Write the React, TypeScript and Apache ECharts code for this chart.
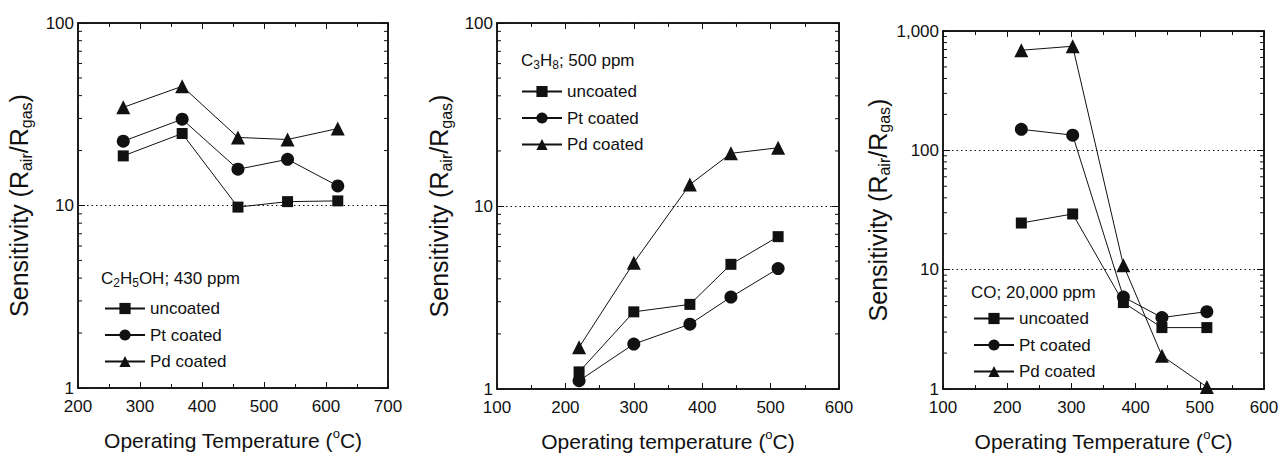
import React, { useEffect, useRef } from "react";
import * as echarts from "echarts";

// ---- data ----
const SERIES_NAMES = ["uncoated", "Pt coated", "Pd coated"];

const P1_TEMP = [273, 368, 458, 538, 619];
const P1_UNCOATED = [18.7, 24.8, 9.8, 10.5, 10.6];
const P1_PT = [22.5, 29.7, 15.8, 17.9, 12.8];
const P1_PD = [34.5, 45, 23.6, 23, 26.4];

const P2_TEMP = [220, 300, 382, 442, 511];
const P2_UNCOATED = [1.24, 2.64, 2.9, 4.8, 6.8];
const P2_PT = [1.11, 1.76, 2.26, 3.18, 4.55];
const P2_PD = [1.69, 4.9, 13.1, 19.4, 20.8];

const P3_TEMP = [222, 302, 381, 441, 511];
const P3_UNCOATED = [24.6, 29.3, 5.3, 3.27, 3.27];
const P3_PT = [150, 134, 5.9, 3.97, 4.45];
const P3_PD = [690, 745, 10.9, 1.9, 1.04];

const X_RANGES = [
  [200, 700],
  [100, 600],
  [100, 600],
];
const Y_RANGES = [
  [1, 100],
  [1, 100],
  [1, 1000],
];
const X_NAMES = [
  "Operating Temperature ({sup|o}C)",
  "Operating temperature ({sup|o}C)",
  "Operating Temperature ({sup|o}C)",
];
const GAS_LABELS = [
  "C{sub|2}H{sub|5}OH; 430 ppm",
  "C{sub|3}H{sub|8}; 500 ppm",
  "CO; 20,000 ppm",
];

// ---- layout ----
const FONT = '"Liberation Sans", Arial, sans-serif';
const INK = "#111";
const GRIDS = [
  { left: 78, top: 23, width: 310, height: 365 },
  { left: 497, top: 23, width: 342, height: 367 },
  { left: 943, top: 31, width: 321, height: 359 },
];
const Y_NAME_GAPS = [44, 43, 44];
const TITLE_POS = [
  { left: 101, top: 267 },
  { left: 521, top: 49 },
  { left: 971, top: 281 },
];
const LEGEND_POS = [
  { left: 104, top: 300 },
  { left: 521, top: 83 },
  { left: 973, top: 310 },
];

const SYMBOLS = ["rect", "circle", "triangle"];
const SYMBOL_SIZES = [11, 13, 14];

function minorLogTicks(min: number, max: number): number[] {
  const out: number[] = [];
  for (let d = min; d < max; d *= 10) {
    for (let k = 2; k <= 9; k++) out.push(d * k);
  }
  return out;
}

export default function App() {
  const ref = useRef<HTMLDivElement>(null);

  useEffect(() => {
    document.body.style.margin = "0";
    if (!ref.current) return;
    const chart = echarts.init(ref.current, undefined, { renderer: "svg" });

    const panelData = [
      { x: P1_TEMP, ys: [P1_UNCOATED, P1_PT, P1_PD] },
      { x: P2_TEMP, ys: [P2_UNCOATED, P2_PT, P2_PD] },
      { x: P3_TEMP, ys: [P3_UNCOATED, P3_PT, P3_PD] },
    ];

    const grid: any[] = [];
    const xAxis: any[] = [];
    const yAxis: any[] = [];
    const series: any[] = [];
    const title: any[] = [];
    const legend: any[] = [];

    panelData.forEach((pd, i) => {
      grid.push({
        ...GRIDS[i],
        show: true,
        borderColor: INK,
        borderWidth: 1.5,
        backgroundColor: "transparent",
      });
      const [xmin, xmax] = X_RANGES[i];
      const [ymin, ymax] = Y_RANGES[i];

      const xBase = {
        type: "value",
        gridIndex: i,
        min: xmin,
        max: xmax,
        interval: 100,
        axisLine: { show: true, lineStyle: { color: INK, width: 1.5 } },
        axisTick: { show: true, inside: true, length: 6, lineStyle: { color: INK } },
        minorTick: { show: true, splitNumber: 2, length: 4, lineStyle: { color: INK } },
        splitLine: { show: false },
      };
      xAxis.push({
        ...xBase,
        position: "bottom",
        axisLabel: {
          show: true,
          margin: 10,
          fontSize: 17,
          fontFamily: FONT,
          color: INK,
        },
        name: X_NAMES[i],
        nameLocation: "middle",
        nameGap: 39,
        nameTextStyle: {
          fontSize: 21,
          fontFamily: FONT,
          color: INK,
          lineHeight: 26,
          rich: {
            sup: {
              fontSize: 13,
              fontFamily: FONT,
              color: INK,
              verticalAlign: "top",
              lineHeight: 13,
            },
          },
        },
      });
      xAxis.push({ ...xBase, position: "top", axisLabel: { show: false } });

      const yBase = {
        type: "log",
        logBase: 10,
        gridIndex: i,
        min: ymin,
        max: ymax,
        axisLine: { show: true, lineStyle: { color: INK, width: 1.5 } },
        axisTick: { show: true, inside: true, length: 7, lineStyle: { color: INK } },
      };
      yAxis.push({
        ...yBase,
        position: "left",
        axisLabel: {
          show: true,
          margin: 4,
          fontSize: 17,
          lineHeight: 17,
          fontFamily: FONT,
          color: INK,
          formatter: (v: number) =>
            v >= 1000 ? v.toLocaleString("en-US") : String(v),
        },
        splitLine: {
          show: true,
          lineStyle: { color: INK, type: [1.5, 3], width: 1 },
        },
        name: "Sensitivity (R{sub|air}/R{sub|gas})",
        nameLocation: "middle",
        nameGap: Y_NAME_GAPS[i],
        nameTextStyle: {
          fontSize: 25,
          fontFamily: FONT,
          color: INK,
          lineHeight: 30,
          rich: {
            sub: {
              fontSize: 16,
              fontFamily: FONT,
              color: INK,
              verticalAlign: "bottom",
              lineHeight: 16,
            },
          },
        },
      });
      yAxis.push({
        ...yBase,
        position: "right",
        axisLabel: { show: false },
        splitLine: { show: false },
      });

      pd.ys.forEach((vals, s) => {
        series.push({
          type: "line",
          name: SERIES_NAMES[s],
          xAxisIndex: 2 * i,
          yAxisIndex: 2 * i,
          data: pd.x.map((x, k) => [x, vals[k]]),
          symbol: SYMBOLS[s],
          symbolSize: SYMBOL_SIZES[s],
          showSymbol: true,
          lineStyle: { color: INK, width: 1 },
          itemStyle: { color: INK, borderWidth: 0 },
          z: 3,
        });
      });

      // minor log ticks on left and right edges
      series.push({
        type: "custom",
        xAxisIndex: 2 * i,
        yAxisIndex: 2 * i,
        silent: true,
        clip: false,
        z: 4,
        data: minorLogTicks(ymin, ymax).map((v) => [xmin, v]),
        renderItem: (params: any, api: any) => {
          const v = api.value(1);
          const l = api.coord([xmin, v]);
          const r = api.coord([xmax, v]);
          return {
            type: "group",
            children: [
              {
                type: "line",
                shape: { x1: l[0], y1: l[1], x2: l[0] + 4, y2: l[1] },
                style: { stroke: INK, lineWidth: 1 },
              },
              {
                type: "line",
                shape: { x1: r[0] - 4, y1: r[1], x2: r[0], y2: r[1] },
                style: { stroke: INK, lineWidth: 1 },
              },
            ],
          };
        },
      });

      title.push({
        text: GAS_LABELS[i],
        left: TITLE_POS[i].left,
        top: TITLE_POS[i].top,
        padding: 0,
        textStyle: {
          fontSize: 17,
          fontWeight: "normal",
          fontFamily: FONT,
          color: INK,
          lineHeight: 22,
          rich: {
            sub: {
              fontSize: 12,
              fontFamily: FONT,
              color: INK,
              verticalAlign: "bottom",
              lineHeight: 11,
            },
          },
        },
      });

      legend.push({
        orient: "vertical",
        left: LEGEND_POS[i].left,
        top: LEGEND_POS[i].top,
        padding: 0,
        itemWidth: 40,
        itemHeight: 14,
        itemGap: 9.5,
        selectedMode: false,
        data: SERIES_NAMES,
        textStyle: { fontSize: 17, fontFamily: FONT, color: INK },
      });
    });

    chart.setOption({
      animation: false,
      backgroundColor: "#fff",
      grid,
      xAxis,
      yAxis,
      series,
      title,
      legend,
    });

    return () => chart.dispose();
  }, []);

  return <div ref={ref} style={{ width: 1287, height: 459 }} />;
}
